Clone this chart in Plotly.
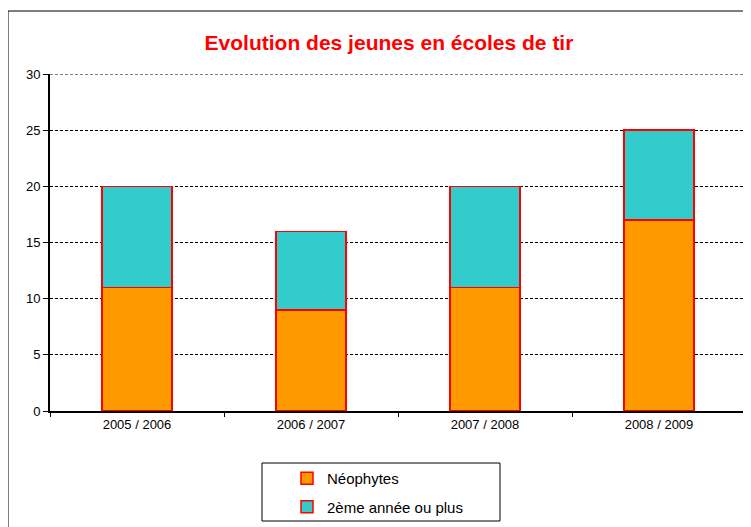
import plotly.graph_objects as go

categories = ["2005 / 2006", "2006 / 2007", "2007 / 2008", "2008 / 2009"]
neophytes = [11, 9, 11, 17]
deuxieme = [9, 7, 9, 8]
series_names = ["Néophytes", "2ème année ou plus"]
y_ticks = [0, 5, 10, 15, 20, 25, 30]
title_text = "Evolution des jeunes en écoles de tir"

OFF = 8  # page body margin
W, H = 751 - OFF, 527 - OFF
ML, MR, MT, MB = 50 - OFF, 5, 74 - OFF, 116
PW, PH = W - ML - MR, H - MT - MB

def px_x(px):
    return (px - OFF - ML) / PW

def px_y(py):
    return (H - MB - (py - OFF)) / PH

fig = go.Figure()
fig.add_trace(go.Bar(x=categories, y=neophytes, name=series_names[0], legendgroup="g0",
                     marker=dict(color="#FF9900", line=dict(color="#FF0000", width=1.5))))
fig.add_trace(go.Bar(x=categories, y=deuxieme, name=series_names[1], legendgroup="g1",
                     marker=dict(color="#33CCCC", line=dict(color="#FF0000", width=1.5))))

fig.update_layout(
    width=W, height=H,
    margin=dict(l=ML, r=MR, t=MT, b=MB, autoexpand=False),
    barmode="stack", bargap=0.6,
    plot_bgcolor="white", paper_bgcolor="white",
    font=dict(family="Liberation Sans, Arial", size=13, color="black"),
    title=dict(text=title_text, x=px_x(389), xref="paper", xanchor="center",
               y=1 - (43 - OFF) / H, yref="container", yanchor="middle",
               font=dict(family="Liberation Sans, Arial", size=21, color="#FF0000", weight="bold")),
    showlegend=True,
    legend=dict(x=px_x(287), y=px_y(462), xanchor="left", yanchor="top",
                traceorder="grouped", bgcolor="rgba(0,0,0,0)", borderwidth=0,
                font=dict(size=15), tracegroupgap=6),
    xaxis=dict(showline=True, linecolor="black", linewidth=2, ticks="outside",
               tickson="boundaries", ticklen=4, tickcolor="black", showgrid=False,
               tickfont=dict(size=13), fixedrange=True),
    yaxis=dict(range=[0, 30], tickvals=y_ticks, showline=True, linecolor="black",
               linewidth=2, ticks="outside", ticklen=5, tickcolor="black",
               showgrid=True, gridcolor="black", gridwidth=1, griddash="3px,2px",
               zeroline=False, tickfont=dict(size=13), fixedrange=True),
    shapes=[
        dict(type="line", xref="paper", yref="y", x0=0, x1=1,
             y0=y_ticks[-1], y1=y_ticks[-1],
             line=dict(color="black", width=1, dash="3px,2px"), layer="below"),
        dict(type="rect", xref="paper", yref="paper",
             x0=px_x(8), x1=px_x(770), y0=px_y(560), y1=px_y(11),
             line=dict(color="black", width=1), layer="below"),
        dict(type="rect", xref="paper", yref="paper",
             x0=px_x(262), x1=px_x(500), y0=px_y(521), y1=px_y(463),
             line=dict(color="black", width=1), layer="below"),
    ],
)

fig.write_html("out.html")
